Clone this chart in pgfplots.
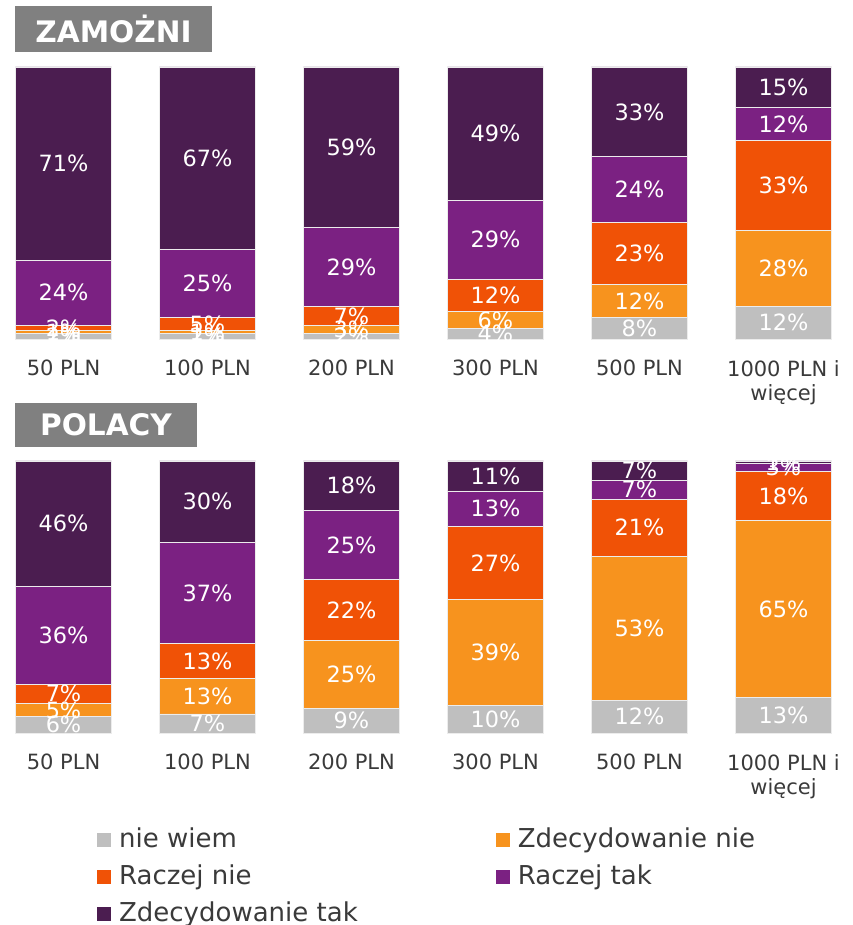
\documentclass[border=0pt]{standalone}
\usepackage{fontspec}
\setmainfont{DejaVu Sans}
\usepackage{pgfplots}
\usepackage{pgfplotstable}
\pgfplotsset{compat=1.18}

\definecolor{cnw}{HTML}{BFBFBF}
\definecolor{czn}{HTML}{F7931E}
\definecolor{crn}{HTML}{F05206}
\definecolor{crt}{HTML}{7B2182}
\definecolor{czt}{HTML}{4B1D50}
\definecolor{tgray}{HTML}{808080}
\definecolor{txt}{HTML}{3A3A3A}

% ZAMOZNI
\pgfplotstableread{
x nw zn rn rt zt
0 2  1  2  24 71
1 2  1  5  25 67
2 2  3  7  29 59
3 4  6  12 29 49
4 8  12 23 24 33
5 12 28 33 12 15
}\zam

% POLACY
\pgfplotstableread{
x nw zn rn   rt   zt
0 6  5  7    36   46
1 7  13 13   37   30
2 9  25 22.4 25.4 18.2
3 10 39 27   13   11
4 12 53 21   7    7
5 13 65 18   3    1
}\pol

\pgfplotsset{
  stackstyle/.style={
    ybar stacked,
    scale only axis,
    width=407.5pt, height=136pt,
    xmin=-0.33, xmax=5.33, ymin=0, ymax=100,
    bar width=0.667,
    axis line style={draw=none},
    major tick length=0,
    ytick=\empty,
    xtick={0,...,5},
    xticklabels={50 PLN,100 PLN,200 PLN,300 PLN,500 PLN,{1000 PLN i\\więcej}},
    xticklabel style={anchor=north, yshift=-7pt, align=center, text=txt,
      font=\fontsize{10.5}{12}\selectfont},
    clip=false,
    /pgf/number format/assume math mode=true,
    visualization depends on=rawy \as \rawy,
    nodes near coords={\pgfmathprintnumber[fixed,precision=0]{\rawy}\%},
    every node near coord/.append style={font=\fontsize{11.2}{12}\selectfont,
      text=white, anchor=center},
    every axis plot/.append style={draw=white!85!gray, line width=0.4pt},
  },
}

\begin{document}
\begin{tikzpicture}
\path[use as bounding box] (0,0) rectangle (426pt,462.5pt);

\begin{axis}[stackstyle, at={(8pt,293pt)}, anchor=south west]
\addplot[fill=cnw] table[x=x,y=nw]{\zam};
\addplot[fill=czn] table[x=x,y=zn]{\zam};
\addplot[fill=crn] table[x=x,y=rn]{\zam};
\addplot[fill=crt] table[x=x,y=rt]{\zam};
\addplot[fill=czt] table[x=x,y=zt]{\zam};
\end{axis}

\begin{axis}[stackstyle, at={(8pt,96pt)}, anchor=south west,
  legend style={at={(rel axis cs:0.099,-0.338)}, anchor=north west,
    draw=none, fill=none, inner sep=0pt,
    font=\fontsize{13}{13}\selectfont, text=txt,
    legend columns=2, row sep=3.5pt,
    nodes={inner sep=1pt, text height=10pt, text depth=3pt},
    /tikz/every odd column/.append style={column sep=3pt},
    /tikz/every even column/.append style={column sep=68pt}},
  legend cell align=left,
  legend image code/.code={\fill[#1, draw=none] (0pt,-3.5pt) rectangle (7pt,3.5pt);},
]
\addplot[fill=cnw] table[x=x,y=nw]{\pol};
\addplot[fill=czn] table[x=x,y=zn]{\pol};
\addplot[fill=crn] table[x=x,y=rn]{\pol};
\addplot[fill=crt] table[x=x,y=rt]{\pol};
\addplot[fill=czt] table[x=x,y=zt]{\pol};
\legend{nie wiem, Zdecydowanie nie, Raczej nie, Raczej tak, Zdecydowanie tak}
\end{axis}

\node[fill=tgray, text=white, font=\bfseries\fontsize{14.8}{14.8}\selectfont,
  minimum width=98.5pt, minimum height=23pt, inner sep=0pt] at (56.75pt,448pt) {ZAMOŻNI};
\node[fill=tgray, text=white, font=\bfseries\fontsize{14.8}{14.8}\selectfont,
  minimum width=91pt, minimum height=22pt, inner sep=0pt] at (53pt,250pt) {POLACY};
\end{tikzpicture}
\end{document}
